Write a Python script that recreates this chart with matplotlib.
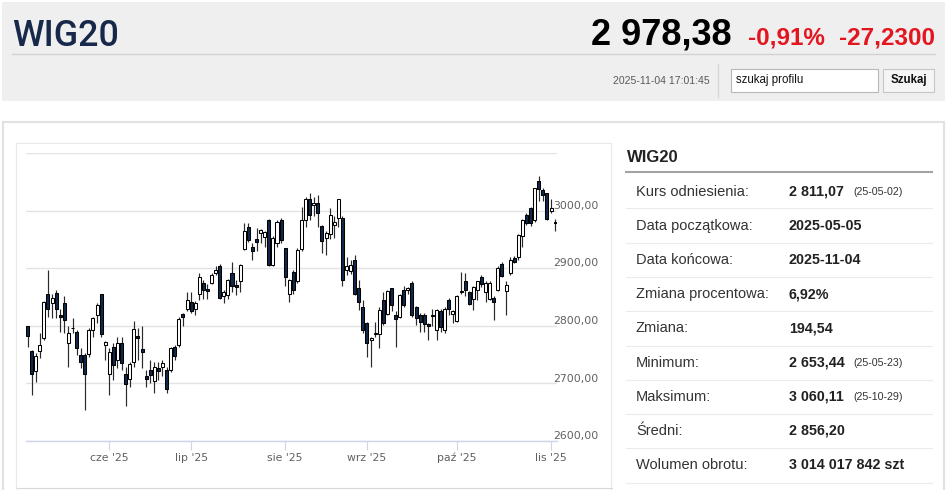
import numpy as np
import pandas as pd
import matplotlib
matplotlib.use('Agg')
import matplotlib.pyplot as plt
from matplotlib.patches import Rectangle

# trading days (GPW), 2025-05-05 .. 2025-11-04
holidays = ['2025-06-19', '2025-08-15']
dates = pd.bdate_range('2025-05-05', '2025-11-04')
dates = dates[~dates.isin(pd.to_datetime(holidays))]

opens = [2799, 2756, 2722, 2757, 2778, 2856, 2839, 2857, 2818, 2839,
         2771, 2796, 2790, 2749, 2749, 2751, 2793, 2819, 2855, 2767,
         2717, 2764, 2741, 2770, 2717, 2708, 2738, 2782, 2759, 2713,
         2724, 2704, 2726, 2728, 2723, 2724, 2764, 2767, 2820, 2830,
         2842, 2830, 2856, 2875, 2864, 2874, 2892, 2904, 2852, 2854,
         2892, 2871, 2877, 2933, 2972, 2936, 2950, 2961, 2954, 2983,
         2906, 2943, 2984, 2935, 2855, 2894, 2877, 2933, 2984, 3021,
         3010, 3014, 2973, 2952, 2959, 2975, 2988, 2987, 2897, 2896,
         2915, 2865, 2833, 2804, 2775, 2786, 2786, 2845, 2821, 2865,
         2818, 2816, 2863, 2862, 2875, 2833, 2819, 2819, 2803, 2819,
         2793, 2825, 2792, 2844, 2820, 2808, 2858, 2878, 2859, 2846,
         2862, 2884, 2859, 2846, 2849, 2862, 2908, 2861, 2891, 2918,
         2919, 2956, 2992, 3004, 2984, 3051, 3036, 3030, 3000, 2981]
highs = [2800, 2758, 2752, 2788, 2843, 2897, 2856, 2863, 2830, 2851,
         2799, 2813, 2793, 2761, 2752, 2796, 2816, 2839, 2856, 2773,
         2761, 2770, 2781, 2781, 2729, 2738, 2809, 2796, 2799, 2723,
         2741, 2738, 2738, 2741, 2729, 2764, 2767, 2816, 2823, 2859,
         2859, 2843, 2892, 2880, 2873, 2891, 2904, 2908, 2862, 2882,
         2910, 2880, 2907, 2978, 2978, 2943, 2969, 2968, 2964, 2985,
         2956, 2984, 2988, 2935, 2882, 2897, 2935, 3007, 3023, 3030,
         3023, 3027, 2975, 2964, 3004, 2990, 3021, 2991, 2920, 2915,
         2923, 2880, 2845, 2807, 2781, 2807, 2833, 2858, 2863, 2866,
         2825, 2856, 2869, 2868, 2877, 2834, 2822, 2822, 2804, 2830,
         2830, 2829, 2833, 2848, 2827, 2853, 2894, 2891, 2860, 2869,
         2878, 2888, 2877, 2877, 2851, 2903, 2910, 2877, 2919, 2921,
         2959, 2985, 2996, 3007, 3040, 3060, 3039, 3031, 3020, 2985]
lows = [2763, 2680, 2703, 2744, 2776, 2816, 2813, 2813, 2790, 2787,
        2729, 2787, 2749, 2726, 2653, 2746, 2781, 2804, 2781, 2741,
        2680, 2706, 2726, 2723, 2660, 2694, 2729, 2741, 2726, 2694,
        2700, 2683, 2706, 2712, 2683, 2720, 2741, 2764, 2800, 2825,
        2822, 2818, 2845, 2846, 2846, 2873, 2888, 2846, 2839, 2846,
        2859, 2853, 2859, 2932, 2946, 2914, 2929, 2943, 2936, 2904,
        2903, 2936, 2943, 2869, 2842, 2855, 2874, 2929, 2972, 2984,
        2990, 2972, 2926, 2923, 2950, 2952, 2972, 2869, 2888, 2890,
        2854, 2827, 2787, 2746, 2729, 2781, 2761, 2801, 2819, 2825,
        2764, 2813, 2833, 2855, 2816, 2801, 2790, 2790, 2775, 2799,
        2775, 2790, 2787, 2819, 2804, 2807, 2856, 2851, 2836, 2827,
        2845, 2868, 2842, 2845, 2810, 2861, 2884, 2819, 2888, 2909,
        2915, 2937, 2975, 2973, 2981, 3016, 3016, 2984, 2995, 2964]
closes = [2783, 2717, 2748, 2767, 2841, 2830, 2849, 2830, 2815, 2810,
          2787, 2797, 2761, 2738, 2717, 2793, 2813, 2836, 2786, 2772,
          2755, 2732, 2771, 2735, 2699, 2734, 2794, 2778, 2755, 2708,
          2715, 2729, 2722, 2735, 2690, 2761, 2747, 2812, 2816, 2844,
          2825, 2839, 2885, 2863, 2861, 2888, 2897, 2849, 2858, 2880,
          2869, 2867, 2906, 2964, 2949, 2929, 2945, 2966, 2962, 2906,
          2952, 2981, 2949, 2885, 2880, 2863, 2932, 2984, 3020, 2992,
          3014, 2995, 2948, 2961, 2992, 2981, 3020, 2880, 2904, 2906,
          2856, 2842, 2793, 2770, 2778, 2787, 2827, 2804, 2861, 2836,
          2811, 2853, 2836, 2866, 2819, 2813, 2807, 2803, 2800, 2817,
          2827, 2798, 2830, 2830, 2825, 2851, 2861, 2862, 2838, 2867,
          2877, 2873, 2874, 2874, 2842, 2900, 2887, 2871, 2915, 2911,
          2958, 2984, 2979, 2979, 3039, 3037, 3027, 2985, 3004, 2978]

y_levels = [2600, 2700, 2800, 2900, 3000, 3100]
pl_months = ['sty', 'lut', 'mar', 'kwi', 'maj', 'cze',
             'lip', 'sie', 'wrz', 'paź', 'lis', 'gru']

stat_labels = ['Kurs odniesienia:', 'Data początkowa:', 'Data końcowa:',
               'Zmiana procentowa:', 'Zmiana:', 'Minimum:', 'Maksimum:',
               'Średni:', 'Wolumen obrotu:']
stat_values = ['2 811,07', '2025-05-05', '2025-11-04', '6,92%', '194,54',
               '2 653,44', '3 060,11', '2 856,20', '3 014 017 842 szt']
stat_notes = ['(25-05-02)', '', '', '', '', '(25-05-23)', '(25-10-29)', '', '']

SANS = ['Liberation Sans', 'DejaVu Sans']
TITLE = ['Roboto', 'Liberation Sans', 'DejaVu Sans']
CHART_FONT = ['DejaVu Sans']
UP, DOWN = '#ffffff', '#10284d'

W, H = 948, 490
fig = plt.figure(figsize=(W / 100, H / 100), dpi=100)
fig.patch.set_facecolor('white')

# page layer in pixel coordinates
bg = fig.add_axes([0, 0, 1, 1], zorder=0)
bg.set_xlim(0, W)
bg.set_ylim(H, 0)
bg.axis('off')

# header
bg.add_patch(Rectangle((2, 2), 943, 99, facecolor='#efefef', edgecolor='none'))
bg.text(12, 46, 'WIG20', family=TITLE, fontsize=25.8, fontweight='medium',
        color='#17284a', va='baseline', ha='left')
bg.text(732, 45, '2 978,38', family=SANS, fontsize=26, fontweight='bold',
        color='#000000', va='baseline', ha='right')
bg.text(748, 45, '-0,91%', family=SANS, fontsize=17.5, fontweight='bold',
        color='#e3161f', va='baseline', ha='left')
bg.text(935, 45, '-27,2300', family=SANS, fontsize=17.5, fontweight='bold',
        color='#e3161f', va='baseline', ha='right')
bg.plot([12, 935], [54, 54], color='#d3d3d3', lw=1)
bg.text(710, 81, '2025-11-04 17:01:45', family=SANS, fontsize=7.6,
        color='#5a5a5a', va='center', ha='right')
bg.plot([718, 718], [64, 97], color='#d6d6d6', lw=1)
bg.add_patch(Rectangle((731, 69), 147, 23, facecolor='white', edgecolor='#b8b8b8', lw=0.8))
bg.text(736, 80.5, 'szukaj profilu', family=SANS, fontsize=8.3,
        color='#111111', va='center', ha='left')
bg.add_patch(Rectangle((883, 69), 51, 23, facecolor='#f5f5f5', edgecolor='#c6c6c6', lw=0.8))
bg.text(908.5, 80.5, 'Szukaj', family=SANS, fontsize=8.3, fontweight='bold',
        color='#111111', va='center', ha='center')

# main panel + chart frame
bg.add_patch(Rectangle((3, 122), 941, 372, facecolor='white', edgecolor='#e2e2e2', lw=1.5))
bg.add_patch(Rectangle((16.5, 142.5), 595, 352, facecolor='white', edgecolor='#e8e8e8', lw=0.8))
bg.plot([17, 612], [488, 488], color='#d8d8d8', lw=0.8)

# stats table
bg.text(627, 157, 'WIG20', family=SANS, fontsize=12, fontweight='bold',
        color='#222222', va='center', ha='left')
bg.plot([626, 932], [172.5, 172.5], color='#a3a3a3', lw=1.5)
for k, (lab, val, note) in enumerate(zip(stat_labels, stat_values, stat_notes)):
    yc = 191.5 + k * 34.2
    bg.text(636, yc, lab, family=SANS, fontsize=10.5, color='#333333',
            va='center', ha='left')
    bg.text(789, yc, val, family=SANS, fontsize=10.3, fontweight='bold',
            color='#222222', va='center', ha='left')
    if note:
        bg.text(853, yc + 0.5, note, family=SANS, fontsize=7.7, color='#333333',
                va='center', ha='left')
    ys = 208.3 + k * 34.3
    bg.plot([626, 932], [ys, ys], color='#ebebeb', lw=0.8)

# candlestick chart
x0, x1, y_top, y_bot = 26, 557, 153, 441
ax = fig.add_axes([x0 / W, 1 - y_bot / H, (x1 - x0) / W, (y_bot - y_top) / H], zorder=2)
ax.set_facecolor('none')

idx = np.arange(len(dates))
o = np.array(opens, float)
h = np.array(highs, float)
l = np.array(lows, float)
c = np.array(closes, float)
up = c >= o

ax.vlines(idx, l, h, color='#2a2a2a', lw=0.85, zorder=2)
body_lo = np.minimum(o, c)
body_h = np.maximum(np.abs(c - o), 0.8)
ax.bar(idx, body_h, bottom=body_lo, width=0.74,
       color=np.where(up, UP, DOWN), edgecolor='#000000', lw=0.75, zorder=3)

ax.set_xlim(-0.37, (x1 - 27.5) / 4.09)
ax.set_ylim(y_levels[0], y_levels[-1])
ax.set_yticks(y_levels)
ax.yaxis.set_tick_params(length=0, labelleft=False)
ax.grid(axis='y', color='#e3e3e3', lw=1)
ax.set_axisbelow(True)
for s in ['top', 'right', 'left']:
    ax.spines[s].set_visible(False)
ax.spines['bottom'].set_color('#ccd6eb')
ax.spines['bottom'].set_linewidth(1)

# month ticks at first trading day of each month
months = dates.month
tick_pos = [i for i in range(1, len(dates)) if months[i] != months[i - 1]]
tick_lab = [f"{pl_months[dates[i].month - 1]} '{dates[i].strftime('%y')}" for i in tick_pos]
ax.set_xticks(tick_pos)
ax.set_xticklabels(tick_lab, family=CHART_FONT, fontsize=7.8, color='#606060')
ax.tick_params(axis='x', length=6.5, color='#ccd6eb', pad=2)

for v in y_levels[:-1]:
    ax.annotate(f'{v},00', xy=(0.9925, v), xycoords=('axes fraction', 'data'),
                xytext=(0, 3.5), textcoords='offset points', family=CHART_FONT,
                fontsize=7.8, color='#606060', va='center', ha='left',
                annotation_clip=False)

fig.savefig('out.png', dpi=100)
